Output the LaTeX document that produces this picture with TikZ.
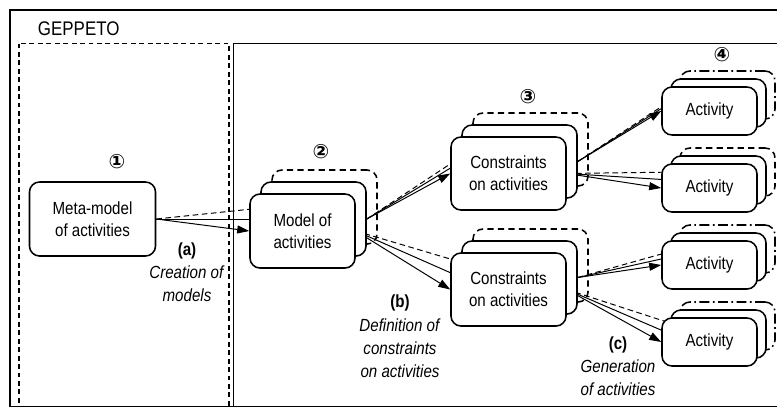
\documentclass[tikz,border=0pt]{standalone}
\usepackage{fontspec}
\setmainfont{Liberation Sans}[FakeStretch=0.86]
\newfontfamily\circfont{DejaVu Sans}
\usetikzlibrary{arrows.meta}
\pgfdeclarelayer{bg}
\pgfsetlayers{bg,main}
\tikzset{
  txt/.style={font=\fontsize{12.5}{15.5}\selectfont, align=center},
  box/.style={txt, draw, line width=1.1pt, fill=white, rounded corners=0.25cm, inner sep=0pt},
  midbox/.style={draw, line width=1.1pt, fill=white, rounded corners=0.25cm, inner sep=0pt},
  backbox/.style={draw, line width=1.1pt, rounded corners=0.25cm, inner sep=0pt, dash pattern=on 4.5pt off 3pt},
  dotbox/.style={backbox, dash pattern=on 7pt off 2.5pt on 1.2pt off 2.5pt},
  numlbl/.style={font=\circfont\bfseries\fontsize{14}{14}\selectfont},
  lbl/.style={txt, font=\fontsize{12.5}{16.5}\selectfont},
  con/.style={line width=0.7pt},
  dcon/.style={con, dash pattern=on 4pt off 2.5pt},
  arr/.style={con, -{Triangle[length=3mm,width=2mm]}}
}
\begin{document}
\begin{tikzpicture}[x=0.025cm, y=-0.025cm]
  \useasboundingbox (0,0) rectangle (777,409);
  % frames
  \draw[thick] (10,10) rectangle (779,406.5);
  \draw[thick, dash pattern=on 3.5pt off 2.5pt] (19,43.5) rectangle (229,406.5);
  \draw[thick] (233.5,43.5) rectangle (779,406.5);
  \node[txt, anchor=west, font=\fontsize{14}{14}\selectfont] (title) at (33,29) {GEPPETO};

  % meta-model
  \node[box, minimum width=3.15cm, minimum height=1.85cm] (meta) at (92.5,219) {Meta-model\\of activities};

  % model of activities
  \coordinate (model) at (302.5,231);
  \node[backbox, minimum width=2.625cm, minimum height=1.85cm] (model3) at ([shift={(22,-24)}]model) {};
  \node[midbox, minimum width=2.625cm, minimum height=1.85cm] (model2) at ([shift={(11,-12)}]model) {};
  \node[box, minimum width=2.625cm, minimum height=1.85cm] (model1) at (model) {Model of\\activities};

  % constraints
  \foreach \n/\y in {conA/173.5, conB/289.5} {
    \coordinate (\n) at (508.5,\y);
    \node[backbox, minimum width=2.875cm, minimum height=1.825cm] (\n3) at ([shift={(22,-24)}]\n) {};
    \node[midbox, minimum width=2.875cm, minimum height=1.825cm] (\n2) at ([shift={(11,-12)}]\n) {};
    \node[box, minimum width=2.875cm, minimum height=1.825cm] (\n1) at (\n) {Constraints\\on activities};
  }

  % activities
  \foreach \n/\y/\s in {actA/111/dotbox, actB/188/backbox, actC/265/dotbox, actD/342/dotbox} {
    \coordinate (\n) at (709.5,\y);
    \node[\s, minimum width=2.375cm, minimum height=1.2cm] (\n3) at ([shift={(18,-16)}]\n) {};
    \node[midbox, minimum width=2.375cm, minimum height=1.2cm] (\n2) at ([shift={(9,-8)}]\n) {};
    \node[box, minimum width=2.375cm, minimum height=1.2cm] (\n1) at (\n) {Activity};
  }

  % numbers
  \node[numlbl] (n1) at (117,162) {①};
  \node[numlbl] (n2) at (321,152) {②};
  \node[numlbl] (n3) at (528,97) {③};
  \node[numlbl] (n4) at (722,55) {④};

  % step labels
  \node[lbl] (la) at (187,272) {\textbf{(a)}\\\textit{Creation of}\\\textit{models}};
  \node[lbl] (lb) at (400,336.5) {\textbf{(b)}\\\textit{Definition of}\\\textit{constraints}\\\textit{on activities}};
  \node[lbl] (lc) at (618,366.5) {\textbf{(c)}\\\textit{Generation}\\\textit{of activities}};

  % connectors
  \begin{pgfonlayer}{bg}
    \draw[dcon] (meta.east) -- (model3.west);
    \draw[con] (meta.east) -- (model2.west);
    \draw[arr] (meta.east) -- (model1.west);
    \draw[dcon] (model2.east) -- (conA3.west);
    \draw[con] (model2.east) -- (conA2.west);
    \draw[arr] (model2.east) -- (conA1.west);
    \draw[dcon] (model1.east) -- (conB3.west);
    \draw[con] (model1.east) -- (conB2.west);
    \draw[arr] (model1.east) -- (conB1.west);
    \draw[dcon] (conA2.east) -- (actA3.west);
    \draw[con] (conA2.east) -- (actA2.west);
    \draw[arr] (conA2.east) -- (actA1.west);
    \draw[dcon] (conA1.east) -- (actB3.west);
    \draw[con] (conA1.east) -- (actB2.west);
    \draw[arr] (conA1.east) -- (actB1.west);
    \draw[dcon] (conB2.east) -- (actC3.west);
    \draw[con] (conB2.east) -- (actC2.west);
    \draw[arr] (conB2.east) -- (actC1.west);
    \draw[dcon] (conB1.east) -- (actD3.west);
    \draw[con] (conB1.east) -- (actD2.west);
    \draw[arr] (conB1.east) -- (actD1.west);
  \end{pgfonlayer}
\end{tikzpicture}
\end{document}
